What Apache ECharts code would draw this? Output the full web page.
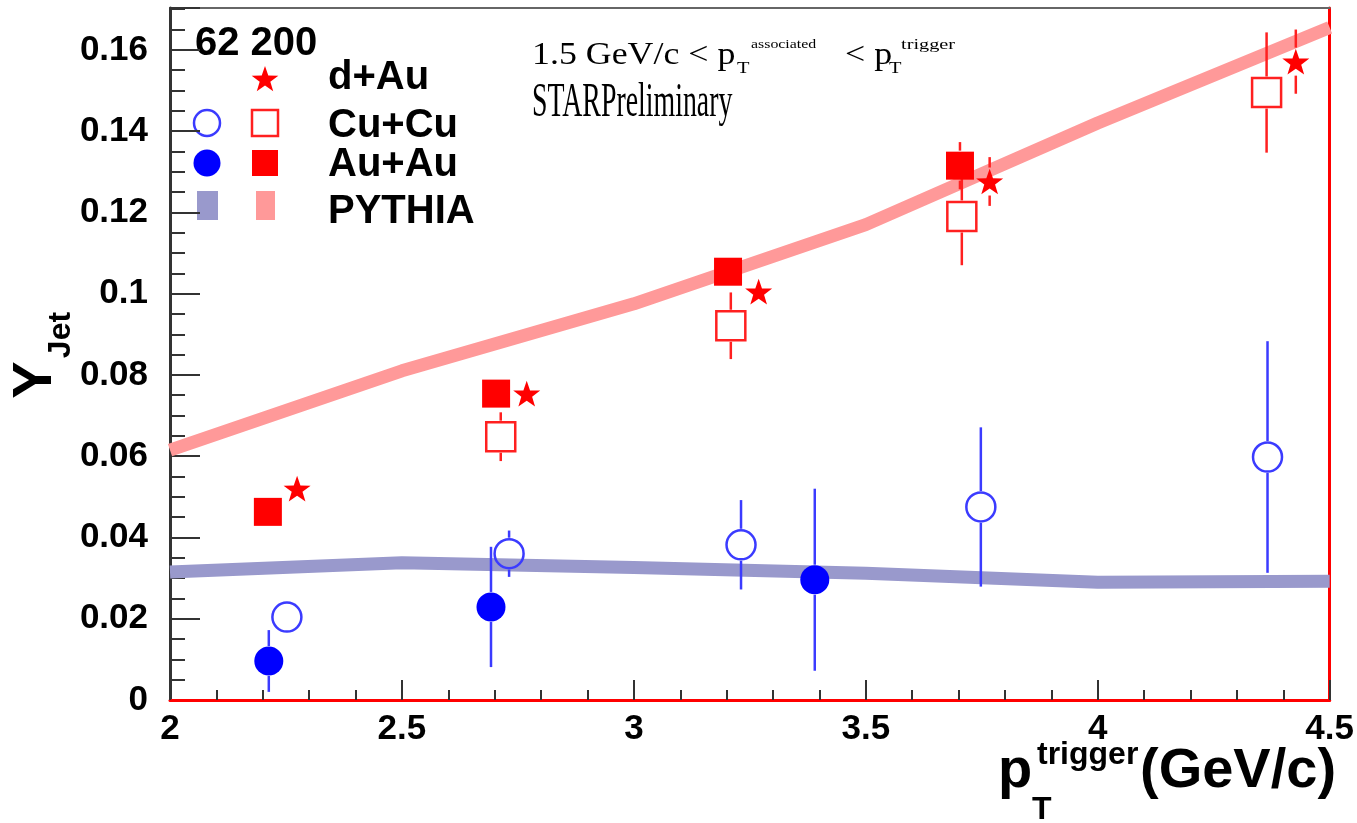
<!DOCTYPE html>
<html>
<head>
<meta charset="utf-8">
<script src="https://cdn.jsdelivr.net/npm/echarts@6/dist/echarts.min.js"></script>
<style>
  html, body { margin: 0; padding: 0; background: #fff; }
  #chart { width: 1357px; height: 823px; }
</style>
</head>
<body>
<div id="chart"></div>
<script>
// values
const xAuAu62 = [2.213, 2.692, 3.39]
const yAuAu62 = [0.0096, 0.0229, 0.0296]
const eAuAu62 = [0.0076, 0.0148, 0.0224]

const xCuCu62 = [2.252, 2.731, 3.231, 3.748, 4.366]
const yCuCu62 = [0.0204, 0.036, 0.0382, 0.0475, 0.0598]
const eCuCu62 = [0.003, 0.0057, 0.011, 0.0196, 0.0285]

const xAuAu200 = [2.211, 2.703, 3.203, 3.703]
const yAuAu200 = [0.0463, 0.0754, 0.1054, 0.1315]
const eAuAu200 = [0.002, 0.003, 0.003, 0.0058]

const xCuCu200 = [2.713, 3.209, 3.707, 4.364]
const yCuCu200 = [0.0648, 0.0921, 0.119, 0.1495]
const eCuCu200 = [0.006, 0.0082, 0.012, 0.0148]

const xDAu = [2.274, 2.769, 3.269, 3.767, 4.427]
const yDAu = [0.052, 0.0754, 0.1005, 0.1276, 0.1571]
const eDAu = [0.002, 0.002, 0.002, 0.006, 0.0079]

const pythiaX = [2, 2.5, 3, 3.5, 4, 4.5]
const pythia200 = [0.0615, 0.081, 0.0975, 0.117, 0.142, 0.1655]
const pythia62 = [0.0315, 0.0338, 0.0326, 0.0312, 0.029, 0.0292]

const energies = '62 200'
const legendLabels = ['d+Au', 'Cu+Cu', 'Au+Au', 'PYTHIA']

const BLUE = '#0000ff'
const RED = '#ff0000'
const BLUE_BAR = '#3b3bff'
const RED_BAR = '#ff2020'
const BLUE_BAND = '#9999cc'
const RED_BAND = '#ff9999'
const SANS = '"Liberation Sans", Arial, sans-serif'
const SERIF = '"Liberation Serif", "Times New Roman", serif'
const STAR = 'M50 0 L61.76 33.82 L97.55 34.55 L69.02 56.18 L79.39 90.45 L50 70 L20.61 90.45 L30.98 56.18 L2.45 34.55 L38.24 33.82 Z'

// five pointed star as polygon points for the legend
const starPoints = (cx, cy, r) => {
  const pts = []
  for (let i = 0; i < 10; i++) {
    const a = -Math.PI / 2 + i * Math.PI / 5
    const rr = i % 2 ? r * 0.4 : r
    pts.push([cx + rr * Math.cos(a), cy + rr * Math.sin(a)])
  }
  return pts
}

const pairs = (xs, ys) => xs.map((x, i) => [x, ys[i]])

// vertical error bar, broken where the marker sits
const errorBars = (xs, ys, es, gap, color) => ({
  type: 'custom',
  silent: true,
  z: 3,
  data: xs.map((x, i) => [x, ys[i] - es[i], ys[i] + es[i], ys[i]]),
  encode: { x: 0, y: [1, 2] },
  renderItem: (params, api) => {
    const lo = api.coord([api.value(0), api.value(1)])
    const hi = api.coord([api.value(0), api.value(2)])
    const c = api.coord([api.value(0), api.value(3)])
    const children = []
    const style = { stroke: color, lineWidth: 2.5 }
    if (hi[1] < c[1] - gap) {
      children.push({ type: 'line', shape: { x1: c[0], y1: hi[1], x2: c[0], y2: c[1] - gap }, style })
    }
    if (lo[1] > c[1] + gap) {
      children.push({ type: 'line', shape: { x1: c[0], y1: c[1] + gap, x2: c[0], y2: lo[1] }, style })
    }
    return { type: 'group', children }
  }
})

const scatter = (xs, ys, symbol, size, item) => ({
  type: 'scatter',
  z: 4,
  symbol,
  symbolSize: size,
  symbolKeepAspect: true,
  data: pairs(xs, ys),
  itemStyle: Object.assign({ opacity: 1 }, item)
})

const band = (ys, color) => ({
  type: 'line',
  z: 2,
  data: pairs(pythiaX, ys),
  showSymbol: false,
  silent: true,
  lineStyle: { color, width: 13, cap: 'butt' }
})

const txt = (text, x, y, font, extra, align) => Object.assign({
  type: 'text',
  x,
  y,
  style: { text, font, fill: '#000', align: align || 'left', verticalAlign: 'middle' }
}, extra || {})

const chart = echarts.init(document.getElementById('chart'))
chart.setOption({
  animation: false,
  backgroundColor: '#fff',
  grid: { left: 170, right: 27, top: 8, bottom: 123 },
  xAxis: [{
    type: 'value',
    min: 2,
    max: 4.5,
    interval: 0.5,
    z: 2,
    axisLine: { onZero: false, lineStyle: { color: RED, width: 3 } },
    axisTick: { inside: true, length: 20, lineStyle: { color: '#333', width: 2 } },
    minorTick: { show: true, splitNumber: 5, length: 10, lineStyle: { color: '#333', width: 2 } },
    axisLabel: {
      margin: 12,
      color: '#000',
      fontFamily: SANS,
      fontWeight: 'bold',
      fontSize: 35
    },
    splitLine: { show: false }
  }, {
    type: 'value',
    position: 'top',
    min: 2,
    max: 4.5,
    axisLine: { onZero: false, lineStyle: { color: '#666', width: 2 } },
    axisTick: { show: false },
    axisLabel: { show: false },
    splitLine: { show: false }
  }],
  yAxis: [{
    type: 'value',
    min: 0,
    max: 0.1703,
    interval: 0.02,
    z: 1,
    axisLine: { show: true, onZero: false, lineStyle: { color: '#333', width: 3 } },
    axisTick: { inside: true, length: 30, lineStyle: { color: '#333', width: 2 } },
    minorTick: { show: true, splitNumber: 4, length: 15, lineStyle: { color: '#333', width: 2 } },
    axisLabel: {
      margin: 22,
      color: '#000',
      fontFamily: SANS,
      fontWeight: 'bold',
      fontSize: 35,
      formatter: v => Math.abs(v / 0.02 - Math.round(v / 0.02)) < 1e-6 ? String(+v.toFixed(2)) : ''
    },
    splitLine: { show: false }
  }, {
    type: 'value',
    position: 'right',
    min: 0,
    max: 0.1703,
    axisLine: { show: true, onZero: false, lineStyle: { color: RED, width: 3 } },
    axisTick: { show: false },
    axisLabel: { show: false },
    splitLine: { show: false }
  }],
  series: [
    band(pythia62, BLUE_BAND),
    band(pythia200, RED_BAND),
    errorBars(xAuAu62, yAuAu62, eAuAu62, 15, BLUE_BAR),
    errorBars(xCuCu62, yCuCu62, eCuCu62, 16, BLUE_BAR),
    errorBars(xAuAu200, yAuAu200, eAuAu200, 15, RED_BAR),
    errorBars(xCuCu200, yCuCu200, eCuCu200, 16, RED_BAR),
    errorBars(xDAu, yDAu, eDAu, 14, RED_BAR),
    scatter(xCuCu62, yCuCu62, 'circle', 29, { color: 'rgba(0,0,0,0)', borderColor: BLUE_BAR, borderWidth: 2.5 }),
    scatter(xAuAu62, yAuAu62, 'circle', 29, { color: BLUE }),
    scatter(xCuCu200, yCuCu200, 'rect', 29, { color: 'rgba(0,0,0,0)', borderColor: RED_BAR, borderWidth: 2.5 }),
    scatter(xAuAu200, yAuAu200, 'rect', 28, { color: RED }),
    scatter(xDAu, yDAu, 'path://' + STAR, 27, { color: RED })
  ],
  graphic: [
    // legend
    txt(energies, 195, 44, 'bold 40px ' + SANS),
    { type: 'polygon', shape: { points: starPoints(265, 80, 14) }, style: { fill: RED } },
    txt(legendLabels[0], 328, 78, 'bold 40px ' + SANS),
    { type: 'circle', shape: { cx: 207, cy: 123, r: 13 }, style: { fill: 'none', stroke: BLUE_BAR, lineWidth: 2.5 } },
    { type: 'rect', shape: { x: 252, y: 110, width: 26, height: 26 }, style: { fill: 'none', stroke: RED_BAR, lineWidth: 2.5 } },
    txt(legendLabels[1], 328, 126, 'bold 40px ' + SANS),
    { type: 'circle', shape: { cx: 207, cy: 163, r: 13.5 }, style: { fill: BLUE } },
    { type: 'rect', shape: { x: 252, y: 150, width: 26, height: 26 }, style: { fill: RED } },
    txt(legendLabels[2], 328, 165, 'bold 40px ' + SANS),
    { type: 'rect', shape: { x: 197, y: 191, width: 21, height: 29 }, style: { fill: BLUE_BAND } },
    { type: 'rect', shape: { x: 256, y: 191, width: 19, height: 29 }, style: { fill: RED_BAND } },
    txt(legendLabels[3], 328, 212, 'bold 40px ' + SANS),

    // kinematic cut and preliminary label
    txt('1.5 GeV/c < p', 532, 56, '32px ' + SERIF, { scaleX: 1.12 }),
    txt('T', 737, 69, '17px ' + SERIF, { scaleX: 1.2 }),
    txt('associated', 751, 45, '13px ' + SERIF, { scaleX: 1.22 }),
    txt('< p', 845, 56, '32px ' + SERIF, { scaleX: 1.12 }),
    txt('T', 889, 69, '17px ' + SERIF, { scaleX: 1.2 }),
    txt('trigger', 901, 45, '14px ' + SERIF, { scaleX: 1.45 }),
    txt('STARPreliminary', 532, 103, '48px ' + SERIF, { scaleX: 0.58 }),

    // axis titles
    txt('Y', 36, 380, 'bold 56px ' + SANS, { rotation: Math.PI / 2 }, 'center'),
    txt('Jet', 61, 335, 'bold 32px ' + SANS, { rotation: Math.PI / 2 }, 'center'),
    txt('p', 998, 772, 'bold 56px ' + SANS),
    txt('T', 1032, 810, 'bold 32px ' + SANS),
    txt('trigger', 1037, 755, 'bold 32px ' + SANS),
    txt('(GeV/c)', 1140, 772, 'bold 56px ' + SANS)
  ]
})
</script>
</body>
</html>
